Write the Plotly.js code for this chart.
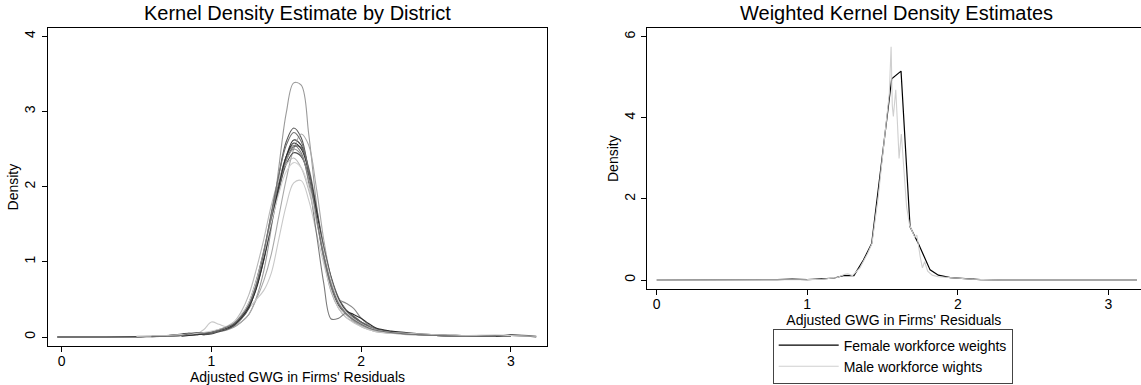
<!DOCTYPE html>
<html>
<head>
<meta charset="utf-8">
<script src="https://cdn.plot.ly/plotly-3.0.1.min.js"></script>
<style>
html,body{margin:0;padding:0;background:#fff;}
#chart{width:1141px;height:385px;}
</style>
</head>
<body>
<div id="chart"></div>
<script>
// ---------- Left panel: kernel density by district ----------
const gridX = [-0.03, 0.3, 0.5, 0.6, 0.7, 0.8, 0.85, 0.9, 0.95, 1.0, 1.05, 1.1, 1.15, 1.2, 1.25, 1.3, 1.35, 1.4, 1.45, 1.5, 1.55, 1.6, 1.65, 1.7, 1.75, 1.8, 1.85, 1.9, 1.95, 2.0, 2.05, 2.1, 2.2, 2.3, 2.4, 2.5, 2.7, 2.9, 3.0, 3.17];

const district01 = [0,0,0,0.005,0.01,0.03,0.04,0.035,0.04,0.06,0.08,0.11,0.16,0.26,0.4,0.68,1.05,1.52,2.0,2.4,2.62,2.55,2.2,1.65,1.1,0.7,0.45,0.33,0.25,0.18,0.13,0.1,0.07,0.05,0.03,0.02,0.01,0.01,0.02,0];
const district02 = [null,null,0.005,0.01,0.02,0.03,0.05,0.04,0.03,0.05,0.09,0.13,0.18,0.28,0.44,0.72,1.1,1.62,2.15,2.6,2.78,2.65,2.2,1.6,1.05,0.65,0.42,0.3,0.22,0.16,0.12,0.09,0.06,0.04,0.03,0.02,0.01,0.01,0.01,null];
const district03 = [null,null,null,0.01,0.02,0.03,0.03,0.04,0.05,0.06,0.07,0.09,0.13,0.2,0.3,0.52,0.88,1.45,2.25,2.98,3.38,3.35,2.7,1.8,1.05,0.6,0.38,0.26,0.2,0.14,0.1,0.07,0.05,0.04,0.03,0.02,0.01,0.01,0.01,null];
const district04 = [null,null,null,null,0.01,0.02,0.02,0.03,0.04,0.06,0.08,0.1,0.14,0.2,0.3,0.5,0.75,1.1,1.6,2.1,2.5,2.7,2.55,2.0,1.3,0.78,0.46,0.3,0.22,0.16,0.12,0.08,0.05,0.04,0.03,0.03,0.02,0.01,0.01,null];
const district05 = [null,null,null,null,null,0.01,0.02,0.04,0.1,0.2,0.17,0.14,0.18,0.26,0.38,0.5,0.62,0.85,1.3,1.75,2.05,2.08,1.82,1.4,0.98,0.62,0.38,0.26,0.19,0.14,0.1,0.07,0.05,0.03,0.02,0.02,0.01,0.01,null,null];
const district06 = [null,null,null,0.01,0.02,0.03,0.03,0.04,0.04,0.05,0.08,0.12,0.18,0.28,0.44,0.74,1.15,1.62,2.05,2.4,2.55,2.45,2.05,1.4,0.72,0.24,0.25,0.32,0.28,0.2,0.14,0.1,0.06,0.04,0.03,0.02,0.01,0.01,null,null];
const district07 = [0,0,0.005,0.01,0.02,0.04,0.05,0.04,0.03,0.04,0.07,0.1,0.15,0.24,0.38,0.66,1.05,1.52,1.95,2.3,2.45,2.4,2.15,1.7,1.2,0.8,0.52,0.36,0.27,0.2,0.15,0.11,0.07,0.05,0.03,0.02,0.01,0.01,0.01,null];
const district08 = [null,null,0.01,0.01,0.02,0.03,0.03,0.04,0.05,0.07,0.1,0.14,0.2,0.34,0.56,0.9,1.3,1.75,2.1,2.3,2.38,2.25,1.95,1.55,1.12,0.76,0.5,0.35,0.25,0.18,0.13,0.1,0.06,0.04,0.03,0.02,0.02,0.01,0.01,null];
const district09 = [null,null,null,0.005,0.01,0.02,0.03,0.03,0.04,0.06,0.09,0.12,0.17,0.27,0.41,0.66,1.02,1.48,1.95,2.35,2.53,2.52,2.25,1.75,1.2,0.78,0.5,0.34,0.26,0.2,0.15,0.11,0.07,0.05,0.04,0.03,0.01,0.01,0.01,null];
const district10 = [null,null,null,null,0.01,0.02,0.03,0.04,0.05,0.07,0.1,0.13,0.18,0.29,0.46,0.76,1.14,1.58,2.0,2.35,2.5,2.42,2.1,1.6,1.1,0.7,0.5,0.45,0.38,0.25,0.16,0.1,0.06,0.04,0.03,0.02,0.01,0.01,null,null];
const district11 = [null,null,null,null,null,0.01,0.02,0.03,0.04,0.06,0.09,0.12,0.17,0.26,0.4,0.64,1.03,1.52,2.0,2.4,2.58,2.5,2.2,1.7,1.15,0.75,0.5,0.35,0.3,0.25,0.18,0.12,0.08,0.06,0.04,0.03,0.02,0.01,0.03,0.01];
const district12 = [null,null,0.01,0.02,0.02,0.03,0.04,0.05,0.06,0.08,0.1,0.13,0.19,0.3,0.46,0.74,1.1,1.52,1.9,2.2,2.32,2.25,2.0,1.6,1.15,0.75,0.48,0.33,0.24,0.17,0.12,0.09,0.06,0.05,0.04,0.03,0.02,0.03,0.02,0.01];
const district13 = [null,null,null,0.01,0.01,0.02,0.04,0.06,0.05,0.06,0.09,0.13,0.18,0.28,0.43,0.7,1.12,1.65,2.15,2.55,2.72,2.6,2.2,1.62,1.08,0.68,0.44,0.31,0.23,0.17,0.12,0.09,0.06,0.04,0.03,0.02,0.01,0.01,null,null];

const districtSeries = [district01, district02, district03, district04, district05, district06, district07, district08, district09, district10, district11, district12, district13];
const districtColors = ['#3a3a3a', '#555555', '#9a9a9a', '#a8a8a8', '#c8c8c8', '#7a7a7a', '#4a4a4a', '#b8b8b8', '#666666', '#8a8a8a', '#2e2e2e', '#d2d2d2', '#707070'];

// ---------- Right panel: weighted kernel densities ----------
const femaleX = [0, 0.2, 0.4, 0.6, 0.8, 0.9, 1.0, 1.1, 1.18, 1.24, 1.28, 1.31, 1.373, 1.428, 1.561, 1.623, 1.683, 1.738, 1.816, 1.871, 1.95, 2.08, 2.15, 2.3, 2.5, 2.8, 3.0, 3.19];
const femaleY = [0, 0, 0, 0, 0.01, 0.02, 0.01, 0.03, 0.05, 0.11, 0.12, 0.11, 0.49, 0.9, 4.96, 5.15, 1.31, 0.9, 0.25, 0.12, 0.06, 0.03, 0.01, 0, 0, 0, 0, 0];

const maleX = [0, 0.5, 0.8, 1.0, 1.1, 1.2, 1.25, 1.27, 1.3, 1.35, 1.4, 1.43, 1.47, 1.5, 1.53, 1.545, 1.557, 1.565, 1.572, 1.58, 1.588, 1.6, 1.61, 1.625, 1.64, 1.66, 1.68, 1.7, 1.715, 1.728, 1.74, 1.75, 1.765, 1.78, 1.8, 1.83, 1.87, 1.92, 2.0, 2.1, 2.3, 2.6, 3.0, 3.19];
const maleY = [0, 0, 0.01, 0.01, 0.02, 0.06, 0.14, 0.15, 0.11, 0.3, 0.65, 0.9, 2.0, 3.0, 4.0, 4.6, 5.75, 4.3, 4.03, 4.4, 4.69, 3.8, 3.0, 3.6, 2.8, 1.8, 1.35, 1.2, 1.05, 1.11, 0.8, 0.58, 0.3, 0.45, 0.22, 0.12, 0.08, 0.07, 0.04, 0.02, 0, 0, 0, 0];

// ---------- Text & ticks ----------
const leftTitle = 'Kernel Density Estimate by District';
const rightTitle = 'Weighted Kernel Density Estimates';
const xTitle = "Adjusted GWG in Firms' Residuals";
const yTitle = 'Density';
const xTicks = [0, 1, 2, 3];
const leftYTicks = [0, 1, 2, 3, 4];
const rightYTicks = [0, 2, 4, 6];
const seriesNames = ['Female workforce weights', 'Male workforce wights'];

const W = 1141, H = 385;
const FONT = '"Liberation Sans", Arial, sans-serif';

const traces = [];
districtSeries.forEach((ys, i) => {
  traces.push({
    x: gridX, y: ys, type: 'scatter', mode: 'lines',
    line: {color: districtColors[i], width: 1.1, shape: 'spline', smoothing: 1},
    connectgaps: false, showlegend: false, hoverinfo: 'skip',
    xaxis: 'x', yaxis: 'y'
  });
});
traces.push({
  x: femaleX, y: femaleY, type: 'scatter', mode: 'lines', name: seriesNames[0],
  line: {color: '#000000', width: 1.2}, xaxis: 'x2', yaxis: 'y2'
});
traces.push({
  x: maleX, y: maleY, type: 'scatter', mode: 'lines', name: seriesNames[1],
  line: {color: '#cfcfcf', width: 1.1}, xaxis: 'x2', yaxis: 'y2'
});

const tfont = {family: FONT, size: 14, color: '#000'};
const axisCommon = {
  showline: true, linecolor: '#000', linewidth: 1, mirror: true,
  ticks: 'outside', ticklen: 5, tickwidth: 1, tickcolor: '#000',
  showgrid: false, zeroline: false, automargin: false,
  tickfont: tfont
};

const layout = {
  width: W, height: H,
  margin: {l: 0, r: 0, t: 0, b: 0, autoexpand: false},
  paper_bgcolor: '#fff', plot_bgcolor: '#fff',
  font: {family: FONT, color: '#000'},
  xaxis: Object.assign({}, axisCommon, {
    domain: [48 / W, 547 / W], range: [-0.0915, 3.2418],
    tickvals: xTicks, ticktext: xTicks.map(String), anchor: 'y', ticklabelstandoff: -3,
    title: {text: xTitle, standoff: 0, font: tfont}
  }),
  yaxis: Object.assign({}, axisCommon, {
    domain: [1 - 346.3 / H, 1 - 28 / H], range: [-0.1237, 4.110],
    tickvals: leftYTicks, ticktext: leftYTicks.map(String), tickangle: -90, anchor: 'x', ticklabelstandoff: 1,
    title: {text: yTitle, standoff: 0, font: tfont}
  }),
  xaxis2: Object.assign({}, axisCommon, {
    domain: [646.7 / W, 1], range: [-0.0664, 3.217],
    tickvals: xTicks, ticktext: xTicks.map(String), anchor: 'y2', ticklabelstandoff: -3,
    title: {text: xTitle, standoff: 0, font: tfont}
  }),
  yaxis2: Object.assign({}, axisCommon, {
    domain: [1 - 289.3 / H, 1 - 28 / H], range: [-0.229, 6.214],
    tickvals: rightYTicks, ticktext: rightYTicks.map(String), tickangle: -90, anchor: 'x2',
    title: {text: yTitle, standoff: 0, font: tfont}
  }),
  showlegend: true,
  legend: {
    x: 772.7 / W, y: 1 - 383.5 / H, xanchor: 'left', yanchor: 'bottom',
    bordercolor: '#444', borderwidth: 1, bgcolor: '#fff',
    font: tfont, itemwidth: 60, tracegroupgap: 0
  },
  annotations: [
    {text: leftTitle, xref: 'paper', yref: 'paper', x: 297.5 / W, y: 1 - 13.5 / H,
     xanchor: 'center', yanchor: 'middle', showarrow: false,
     font: {family: FONT, size: 20, color: '#000'}},
    {text: rightTitle, xref: 'paper', yref: 'paper', x: 896 / W, y: 1 - 13.5 / H,
     xanchor: 'center', yanchor: 'middle', showarrow: false,
     font: {family: FONT, size: 20, color: '#000'}}
  ]
};

Plotly.newPlot('chart', traces, layout, {staticPlot: true, displayModeBar: false});
</script>
</body>
</html>
